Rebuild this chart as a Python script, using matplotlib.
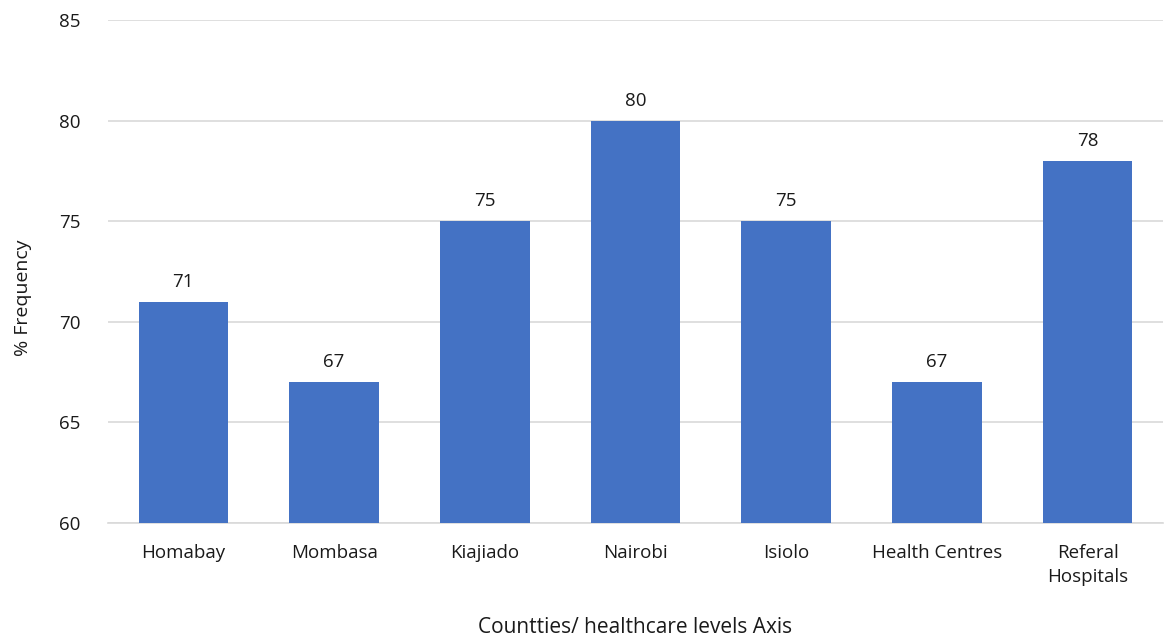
import matplotlib
matplotlib.use("Agg")
import matplotlib.pyplot as plt

categories = ["Homabay", "Mombasa", "Kiajiado", "Nairobi", "Isiolo", "Health Centres", "Referal\nHospitals"]
values = [71, 67, 75, 80, 75, 67, 78]
yticks = [60, 65, 70, 75, 80, 85]

plt.rcParams['font.family'] = ['Open Sans', 'DejaVu Sans']

fig = plt.figure(figsize=(11.65, 6.39), dpi=100)
ax = fig.add_axes([108/1165, 1 - 523/639, (1163 - 108)/1165, (523 - 20)/639])

x = list(range(len(categories)))
bars = ax.bar(x, values, width=0.595, color="#4472C4", zorder=3)
for xi, v in zip(x, values):
    ax.text(xi, v + 0.55, f"{v}", ha="center", va="bottom", fontsize=13.5, color="#1a1a1a")

ax.set_ylim(60, 85)
ax.set_xlim(-0.5, len(categories) - 0.5)
ax.set_yticks(yticks)
ax.set_yticklabels([str(t) for t in yticks], fontsize=13.5, color="#1a1a1a")
ax.set_xticks(x)
ax.set_xticklabels(categories, fontsize=13.5, color="#1a1a1a", linespacing=1.45)
ax.yaxis.grid(True, color="#D9D9D9", linewidth=1.2, zorder=0)
ax.tick_params(axis="both", length=0)
ax.tick_params(axis="y", pad=20)
ax.tick_params(axis="x", pad=15)
for s in ["top", "right", "left"]:
    ax.spines[s].set_visible(False)
ax.spines["bottom"].set_color("#D9D9D9")
ax.spines["bottom"].set_linewidth(1.2)

ax.set_ylabel("% Frequency", fontsize=14, color="#1a1a1a")
ax.yaxis.set_label_coords(-0.072, 0.447)
ax.set_xlabel("Countties/ healthcare levels Axis", fontsize=15, labelpad=22, color="#1a1a1a")

fig.savefig("out.png", dpi=100)
